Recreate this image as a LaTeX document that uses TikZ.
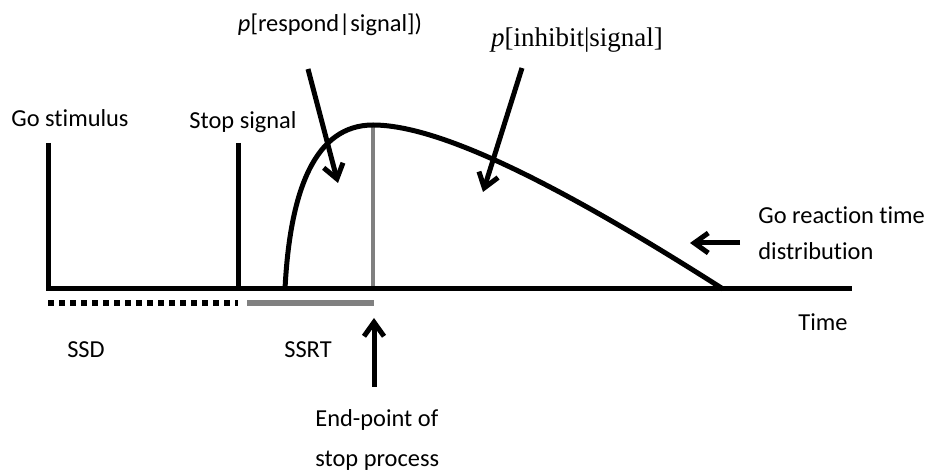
\documentclass[tikz,border=0pt]{standalone}
\usepackage{fontspec}
\setmainfont[Ligatures=NoCommon]{Carlito}
\newfontfamily\timesfont{Liberation Serif}
\usetikzlibrary{arrows.meta,positioning}
\tikzset{
  lbl/.style={font=\fontsize{12.2}{19}\selectfont, inner sep=0pt},
  axisline/.style={line width=2.5pt, line join=miter},
  mark line/.style={line width=2.5pt},
  rtcurve/.style={line width=2.5pt},
  ssdline/.style={line width=2.75pt, dash pattern=on 2.75pt off 2.75pt},
  ssrtline/.style={line width=2.75pt, gray},
  endline/.style={line width=1.75pt, gray},
  pointer/.style={line width=2.5pt, -{Straight Barb[length=7pt,width=10pt]}}
}

\begin{document}
\begin{tikzpicture}[x=0.5pt, y=-0.5pt]
\useasboundingbox (0,0) rectangle (928,475);

% time axis and events
\coordinate (gotop) at (48,143);
\coordinate (origin) at (48,289);
\coordinate (axisend) at (852,289);
\coordinate (stoptop) at (238,143);
\coordinate (stopbase) at (238,289);
\coordinate (rtstart) at (285,289);
\coordinate (rtpeak) at (373,125);
\coordinate (rtend) at (723,289);
\coordinate (endbase) at (373,289);

\node[lbl] (gostim) at (70,118) {Go stimulus};
\node[lbl] (stopsig) at (243,122) {Stop signal};
\node[lbl] (resp) at (330,25) {\textit{p}[respond|signal])};
\node[lbl, font=\timesfont\fontsize{13.5}{16}\selectfont] (inhib) at (577,40) {\textit{p}[inhibit|signal]};
\node[lbl, align=left, anchor=base west, font=\fontsize{12.2}{18}\selectfont] (gort) at (758,260) {Go reaction time\\distribution};
\node[lbl] (time) at (823,322) {Time};
\node[lbl] (ssd) at (86,350) {SSD};
\node[lbl] (ssrt) at (308,350) {SSRT};
\node[lbl, align=left, anchor=base west, font=\fontsize{12.2}{20}\selectfont] (endpt) at (315,467) {End-point of\\stop process};

\draw[endline] (rtpeak) -- (endbase);
\draw[axisline] (gotop) -- (origin) -- (axisend);
\draw[mark line] (stoptop) -- (stopbase);
\draw[rtcurve] (rtstart) .. controls (290,190) and (315,125) .. (rtpeak)
  .. controls (440,125) and (560,185) .. (rtend);

% SSD and SSRT bars
\coordinate (ssdend) at (238,303);
\coordinate (ssrtstart) at (247,303);
\coordinate (ssrtend) at (374,303);
\draw[ssdline] (48,303) -- (ssdend);
\draw[ssrtline] (ssrtstart) -- (ssrtend);

% pointers
\coordinate (endfrom) at (374,387);
\coordinate (endto) at (374,318);
\coordinate (gortfrom) at (740,243);
\coordinate (gortto) at (690,243);
\coordinate (respfrom) at (308,69);
\coordinate (respto) at (338,183);
\coordinate (inhibfrom) at (522,68);
\coordinate (inhibto) at (483,192);
\draw[pointer] (endfrom) -- (endto);
\draw[pointer] (gortfrom) -- (gortto);
\draw[pointer] (respfrom) -- (respto);
\draw[pointer] (inhibfrom) -- (inhibto);
\end{tikzpicture}
\end{document}
